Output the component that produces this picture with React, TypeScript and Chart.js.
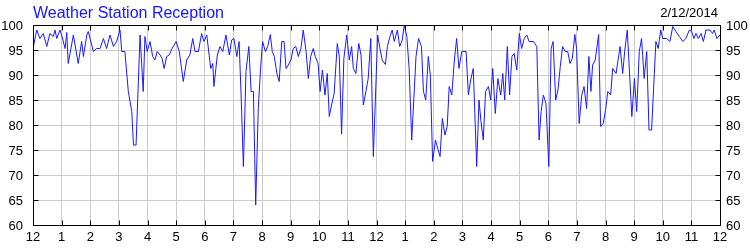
import { useEffect, useRef } from "react";
import { Chart, registerables } from "chart.js";

Chart.register(...registerables);

const FONT = "'Liberation Sans', Arial, sans-serif";

const chartTitle = "Weather Station Reception";
const dateText = "2/12/2014";

const tickLabels = ["12", "1", "2", "3", "4", "5", "6", "7", "8", "9", "10", "11", "12", "1", "2", "3", "4", "5", "6", "7", "8", "9", "10", "11", "12"];
const hourTicks = tickLabels.map((_, i) => i);
const yTicks = [60, 65, 70, 75, 80, 85, 90, 95, 100];

// time of day in hours
const times = [
  0.00, 0.13, 0.24, 0.36, 0.48, 0.59, 0.71, 0.77, 0.83, 0.94,
  1.00, 1.12, 1.18, 1.23, 1.41, 1.58, 1.70, 1.76, 1.88, 1.93,
  2.11, 2.22, 2.34, 2.46, 2.57, 2.69, 2.81, 2.92, 3.04, 3.10,
  3.21, 3.33, 3.45, 3.51, 3.60, 3.74, 3.85, 3.91, 3.99, 4.09,
  4.18, 4.26, 4.34, 4.44, 4.51, 4.58, 4.67, 4.76, 4.86, 5.00,
  5.11, 5.25, 5.37, 5.48, 5.58, 5.66, 5.78, 5.89, 5.97, 6.07,
  6.21, 6.28, 6.32, 6.44, 6.53, 6.63, 6.74, 6.86, 6.94, 7.02,
  7.12, 7.20, 7.27, 7.35, 7.44, 7.54, 7.62, 7.70, 7.78, 7.87,
  7.95, 8.02, 8.12, 8.20, 8.29, 8.36, 8.43, 8.52, 8.60, 8.69,
  8.77, 8.84, 8.92, 9.01, 9.09, 9.18, 9.27, 9.36, 9.44, 9.54,
  9.62, 9.70, 9.79, 9.86, 9.96, 10.03, 10.11, 10.20, 10.28, 10.35,
  10.43, 10.52, 10.63, 10.70, 10.78, 10.86, 10.96, 11.05, 11.13, 11.19,
  11.28, 11.38, 11.46, 11.54, 11.63, 11.71, 11.80, 11.89, 12.04, 12.12,
  12.20, 12.31, 12.38, 12.47, 12.55, 12.62, 12.73, 12.81, 12.90, 12.97,
  13.06, 13.14, 13.23, 13.38, 13.47, 13.57, 13.64, 13.72, 13.81, 13.88,
  13.96, 14.06, 14.14, 14.22, 14.30, 14.39, 14.47, 14.54, 14.63, 14.72,
  14.80, 14.88, 14.98, 15.13, 15.21, 15.29, 15.38, 15.50, 15.58, 15.65,
  15.73, 15.81, 15.91, 15.99, 16.06, 16.15, 16.24, 16.34, 16.41, 16.48,
  16.57, 16.65, 16.73, 16.81, 16.90, 16.99, 17.07, 17.16, 17.25, 17.33,
  17.48, 17.60, 17.68, 17.75, 17.83, 17.92, 18.02, 18.10, 18.17, 18.26,
  18.34, 18.42, 18.50, 18.59, 18.68, 18.76, 18.84, 18.93, 18.99, 19.08,
  19.17, 19.25, 19.34, 19.42, 19.49, 19.55, 19.64, 19.76, 19.83, 19.92,
  20.01, 20.08, 20.18, 20.25, 20.37, 20.51, 20.60, 20.67, 20.76, 20.92,
  21.01, 21.09, 21.18, 21.26, 21.35, 21.44, 21.52, 21.61, 21.76, 21.84,
  21.93, 22.00, 22.14, 22.25, 22.35, 22.46, 22.58, 22.70, 22.81, 22.93,
  23.01, 23.09, 23.16, 23.24, 23.34, 23.42, 23.51, 23.65, 23.74, 23.80,
  23.89, 24.00,
];

// reception percentage
const reception = [
  95.3, 99, 97.3, 98.3, 95.7, 98.3, 97.7, 99, 97.3, 99,
  98, 95.3, 98.5, 92.3, 98, 92.3, 96.7, 93.7, 98, 98.7,
  94.7, 95.3, 95.3, 97.3, 95.3, 98, 95.7, 96.7, 99, 94.7,
  94.7, 86.7, 82.7, 76, 76, 98, 86.7, 97.7, 94.7, 96.7,
  93.7, 93, 94.7, 94, 93.3, 91.3, 93.7, 94, 95.3, 96.7,
  94.7, 88.7, 93, 94, 97.3, 94.7, 94.7, 98.3, 96.7, 98,
  91.3, 92.3, 87.7, 94, 95.7, 94.7, 98, 94, 97, 97.3,
  93.7, 96.7, 86, 71.7, 90.7, 95.7, 86.7, 86.7, 64, 83.3,
  91.3, 96.7, 94.7, 95.7, 98.1, 94.7, 93.7, 90.3, 88.7, 96.7,
  96.7, 91.3, 92, 93, 95.3, 95.7, 93.7, 95.3, 99, 94.7,
  89.3, 93.7, 95.3, 93.7, 92.3, 86.7, 91, 86, 90.3, 81.7,
  84, 86.3, 96.3, 93.7, 78.2, 93.3, 98, 93, 95.7, 91.3,
  90.3, 96.3, 94, 84, 86.7, 89.3, 97.3, 73.7, 98, 95.3,
  93, 92.1, 95.7, 97.7, 99, 96.7, 99, 95.7, 97, 100,
  97.7, 91.3, 77, 93.7, 97.3, 95.7, 86.7, 85, 93.7, 90,
  72.7, 77, 75.3, 73.7, 81.3, 78, 79.7, 87.7, 86, 93,
  97.3, 91.3, 94.7, 94.7, 86, 89, 91.3, 71.7, 85, 80.7,
  77, 86.7, 87.7, 85, 91.3, 82.3, 89.3, 86, 90.3, 85,
  95.7, 86, 93.7, 94.3, 91, 98.3, 95.3, 97.3, 98, 96.7,
  96.7, 95.7, 77, 82.7, 86, 84.3, 71.7, 95.3, 96.7, 85,
  87, 91.7, 95.7, 94.7, 94.7, 92.3, 93.3, 98.1, 95.3, 80.3,
  86, 87.7, 83.3, 93.7, 86.7, 92, 93, 98.1, 79.7, 80.3,
  83.3, 86.7, 86, 91.3, 90.3, 95.7, 90.3, 94.7, 99, 81.7,
  89.3, 82.7, 94.7, 97.3, 89.3, 94.7, 79, 79, 96.7, 95.3,
  99, 97.3, 97.3, 96.7, 99.7, 98.7, 97.7, 96.7, 97.3, 99,
  98.7, 97.3, 98.3, 97.3, 98.3, 96.7, 99, 99, 98.3, 99,
  97.3, 98,
];

const framePlugin = {
  id: "frameTicks",
  afterDraw(chart: any) {
    const { ctx, chartArea, scales } = chart;
    const left = Math.round(chartArea.left) + 0.5;
    const right = Math.round(chartArea.right) + 0.5;
    const top = Math.round(chartArea.top) + 0.5;
    const bottom = Math.round(chartArea.bottom) + 0.5;
    ctx.save();
    ctx.strokeStyle = "#000";
    ctx.lineWidth = 1;
    ctx.beginPath();
    ctx.rect(left, top, right - left, bottom - top);
    const tl = 5;
    hourTicks.forEach((v) => {
      const px = Math.round(scales.x.getPixelForValue(v)) + 0.5;
      ctx.moveTo(px, bottom);
      ctx.lineTo(px, bottom - tl);
      ctx.moveTo(px, top);
      ctx.lineTo(px, top + tl);
    });
    yTicks.forEach((v) => {
      const py = Math.round(scales.y.getPixelForValue(v)) + 0.5;
      ctx.moveTo(left, py);
      ctx.lineTo(left + tl, py);
      ctx.moveTo(right, py);
      ctx.lineTo(right - tl, py);
    });
    ctx.stroke();
    ctx.restore();
  },
};

const textPlugin = {
  id: "headerText",
  afterDraw(chart: any) {
    const { ctx, chartArea } = chart;
    ctx.save();
    ctx.textBaseline = "alphabetic";
    ctx.font = `16px ${FONT}`;
    ctx.fillStyle = "#1515ff";
    ctx.textAlign = "left";
    ctx.fillText(chartTitle, chartArea.left, 18);
    ctx.font = `13px ${FONT}`;
    ctx.fillStyle = "#000";
    ctx.textAlign = "right";
    ctx.fillText(dateText, chartArea.right - 2, 17);
    ctx.restore();
  },
};

export default function App() {
  const ref = useRef<HTMLCanvasElement>(null);
  useEffect(() => {
    document.body.style.margin = "0";
    const tickFont = { family: FONT, size: 13 };
    const chart = new Chart(ref.current as HTMLCanvasElement, {
      type: "line",
      data: {
        datasets: [
          {
            data: times.map((t, i) => ({ x: t, y: reception[i] })),
            borderColor: "#1a1aff",
            borderWidth: 1,
            pointRadius: 0,
            tension: 0,
            fill: false,
          },
        ],
      },
      options: {
        animation: false,
        responsive: false,
        devicePixelRatio: 1,
        layout: { padding: { top: 25, left: 0, right: 0, bottom: 0 } },
        plugins: {
          legend: { display: false },
          tooltip: { enabled: false },
          title: { display: false },
        },
        scales: {
          x: {
            type: "linear",
            position: "bottom",
            min: 0,
            max: 24,
            afterFit: (s: any) => {
              s.height = 25;
            },
            afterBuildTicks: (s: any) => {
              s.ticks = hourTicks.map((v) => ({ value: v }));
            },
            ticks: {
              autoSkip: false,
              maxRotation: 0,
              padding: 5,
              color: "#000",
              font: tickFont,
              callback: (v: any) => tickLabels[Math.round(Number(v))],
            },
            grid: { color: "#cccccc", drawTicks: false },
            border: { display: false },
          },
          y: {
            type: "linear",
            position: "left",
            min: 60,
            max: 100,
            afterFit: (s: any) => {
              s.width = 33;
            },
            afterBuildTicks: (s: any) => {
              s.ticks = yTicks.map((v) => ({ value: v }));
            },
            ticks: { padding: 10, labelOffset: 1, color: "#000", font: tickFont },
            grid: { color: "#cccccc", drawTicks: false },
            border: { display: false },
          },
          y2: {
            type: "linear",
            position: "right",
            min: 60,
            max: 100,
            afterFit: (s: any) => {
              s.width = 30;
            },
            afterBuildTicks: (s: any) => {
              s.ticks = yTicks.map((v) => ({ value: v }));
            },
            ticks: { padding: 6, labelOffset: 1, color: "#000", font: tickFont },
            grid: { display: false, drawTicks: false },
            border: { display: false },
          },
        },
      },
      plugins: [framePlugin, textPlugin],
    });
    return () => chart.destroy();
  }, []);
  return (
    <div style={{ width: 750, height: 250 }}>
      <canvas ref={ref} width={750} height={250} style={{ display: "block" }} />
    </div>
  );
}
